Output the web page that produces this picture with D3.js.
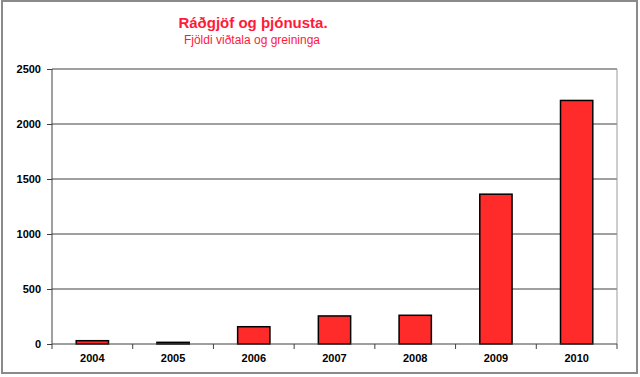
<!DOCTYPE html>
<html>
<head>
<meta charset="utf-8">
<script src="https://cdn.jsdelivr.net/npm/d3@7"></script>
<style>
body { margin: 0; background: #fff; }
text { font-family: Arial, "Liberation Sans", sans-serif; }
</style>
</head>
<body>
<div id="chart"></div>
<script>
let years = ["2004", "2005", "2006", "2007", "2008", "2009", "2010"];
let counts = [30, 15, 157, 255, 261, 1362, 2214];
let yTicks = [0, 500, 1000, 1500, 2000, 2500];

let width = 640, height = 377;
let margin = {top: 69, right: 23, bottom: 33, left: 52};
let plotW = width - margin.left - margin.right;
let plotH = height - margin.top - margin.bottom;

let svg = d3.select("#chart")
    .append("svg")
    .attr("width", width)
    .attr("height", height);

// outer frame
svg.append("rect")
    .attr("x", 2).attr("y", 1)
    .attr("width", 635).attr("height", 372)
    .attr("fill", "none")
    .attr("stroke", "#8a8a8a")
    .attr("stroke-width", 2);

let g = svg.append("g")
    .attr("transform", `translate(${margin.left}, ${margin.top})`);

let x = d3.scaleBand()
    .domain(years)
    .range([0, plotW])
    .paddingInner(0.6)
    .paddingOuter(0.3);

let y = d3.scaleLinear()
    .domain([0, 2500])
    .range([plotH, 0]);

// gridlines
g.append("g")
    .selectAll("line")
    .data(yTicks.slice(1))
    .enter()
    .append("line")
    .attr("x1", 0)
    .attr("x2", plotW)
    .attr("y1", d => y(d))
    .attr("y2", d => y(d))
    .attr("stroke", "#404040")
    .attr("stroke-width", 1);

// right edge of plot area
g.append("line")
    .attr("x1", plotW).attr("x2", plotW)
    .attr("y1", 0).attr("y2", plotH)
    .attr("stroke", "#9a9a9a")
    .attr("stroke-width", 1);

// bars
g.selectAll("rect.bar")
    .data(counts)
    .enter()
    .append("rect")
    .attr("class", "bar")
    .attr("x", (d, i) => x(years[i]))
    .attr("y", d => y(d))
    .attr("width", x.bandwidth())
    .attr("height", d => plotH - y(d))
    .attr("fill", "#ff2a2a")
    .attr("stroke", "#000")
    .attr("stroke-width", 1.5);

// y axis
let yAxis = g.append("g")
    .call(d3.axisLeft(y).tickValues(yTicks).tickFormat(d3.format("d")).tickSize(5).tickPadding(6));
yAxis.select(".domain").attr("stroke", "#404040").attr("d", `M0,0V${plotH}`);
yAxis.selectAll(".tick line").attr("stroke", "#404040");
yAxis.selectAll("text")
    .style("font-size", "11px")
    .style("font-weight", "bold")
    .attr("fill", "#000");

// x axis, ticks between categories
let xAxis = g.append("g")
    .attr("transform", `translate(0, ${plotH})`);
xAxis.append("line")
    .attr("x1", 0).attr("x2", plotW)
    .attr("stroke", "#404040");
xAxis.selectAll("line.sep")
    .data(d3.range(years.length + 1))
    .enter()
    .append("line")
    .attr("class", "sep")
    .attr("x1", i => i * x.step())
    .attr("x2", i => i * x.step())
    .attr("y1", 0).attr("y2", 5)
    .attr("stroke", "#404040");
xAxis.selectAll("text")
    .data(years)
    .enter()
    .append("text")
    .attr("x", d => x(d) + x.bandwidth() / 2)
    .attr("y", 18)
    .attr("text-anchor", "middle")
    .style("font-size", "11px")
    .style("font-weight", "bold")
    .text(d => d);

// titles
svg.append("text")
    .attr("x", 253)
    .attr("y", 28)
    .attr("text-anchor", "middle")
    .attr("fill", "#ff1a3a")
    .style("font-size", "15px")
    .style("font-weight", "bold")
    .text("Ráðgjöf og þjónusta.");

svg.append("text")
    .attr("x", 252)
    .attr("y", 44)
    .attr("text-anchor", "middle")
    .attr("fill", "#ff1a3a")
    .style("font-size", "12px")
    .text("Fjöldi viðtala og greininga");
</script>
</body>
</html>
